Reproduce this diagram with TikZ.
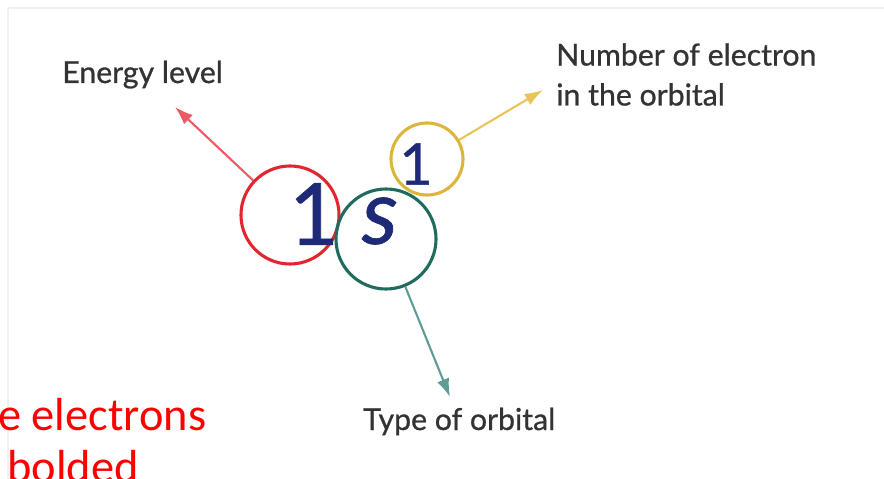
\documentclass[tikz,border=0pt]{standalone}
\usepackage{fontspec}
\setmainfont{Lato}
\newfontfamily\labelfont{Lato}[FakeBold=0.8]
\newfontfamily\slidefont{Carlito}
\usetikzlibrary{arrows.meta}
\definecolor{ringred}{HTML}{E32530}
\definecolor{arrowred}{HTML}{EE5A63}
\definecolor{ringgreen}{HTML}{1F6B5E}
\definecolor{arrowgreen}{HTML}{5F9C96}
\definecolor{ringyellow}{HTML}{DDB43C}
\definecolor{arrowyellow}{HTML}{E9C458}
\definecolor{navy}{HTML}{1E2A78}
\definecolor{labelgray}{HTML}{333333}
\tikzset{
  ring/.style={circle,line width=2.2pt,inner sep=0pt},
  pointer/.style={line width=1.5pt,-{Latex[length=13pt,width=9pt]}},
  caption/.style={text=labelgray,inner sep=0pt,font=\labelfont\fontsize{21.5}{28.4}\selectfont},
  glyph/.style={text=navy,inner sep=0pt}
}
\begin{document}
\begin{tikzpicture}[x=0.025cm,y=-0.025cm]
\useasboundingbox (0,0) rectangle (884,479);
\clip (0,0) rectangle (884,479);
\draw[black!6,line width=0.8pt] (8,480) -- (8,8) -- (884,8);

\node[ring,draw=ringred,minimum size=2.45cm] (enring) at (290,215) {};
\node[ring,draw=ringgreen,minimum size=2.5cm] (tyring) at (386,239) {};
\node[ring,draw=ringyellow,minimum size=1.8cm] (nuring) at (427,159) {};

\node[glyph,font=\labelfont\fontsize{61}{61}\selectfont] (endigit) at (314,214) {1};
\node[glyph,font=\labelfont\fontsize{64}{64}\selectfont\itshape] (tyletter) at (380,221) {s};
\node[glyph,font=\labelfont\fontsize{41}{41}\selectfont] (nudigit) at (416,164) {1};

\coordinate (entip) at (175,107);
\coordinate (tytip) at (450,397);
\coordinate (nutip) at (543,90);
\draw[pointer,arrowred] (enring) -- (entip);
\draw[pointer,arrowgreen] (tyring) -- (tytip);
\draw[pointer,arrowyellow] (nuring) -- (nutip);

\node[caption,anchor=base west] (enlabel) at (62,83) {Energy level};
\node[caption,anchor=north west,align=left] (nulabel) at (556,43) {Number of electron\\in the orbital};
\node[caption,anchor=base west] (tylabel) at (363,430) {Type of orbital};

\node[anchor=base west,inner sep=0pt,text=red,font=\slidefont\fontsize{33}{37}\selectfont] (note1) at (-2,430) {e electrons};
\node[anchor=base west,inner sep=0pt,text=red,font=\slidefont\fontsize{33}{37}\selectfont] (note2) at (7,482) {bolded};
\end{tikzpicture}
\end{document}
